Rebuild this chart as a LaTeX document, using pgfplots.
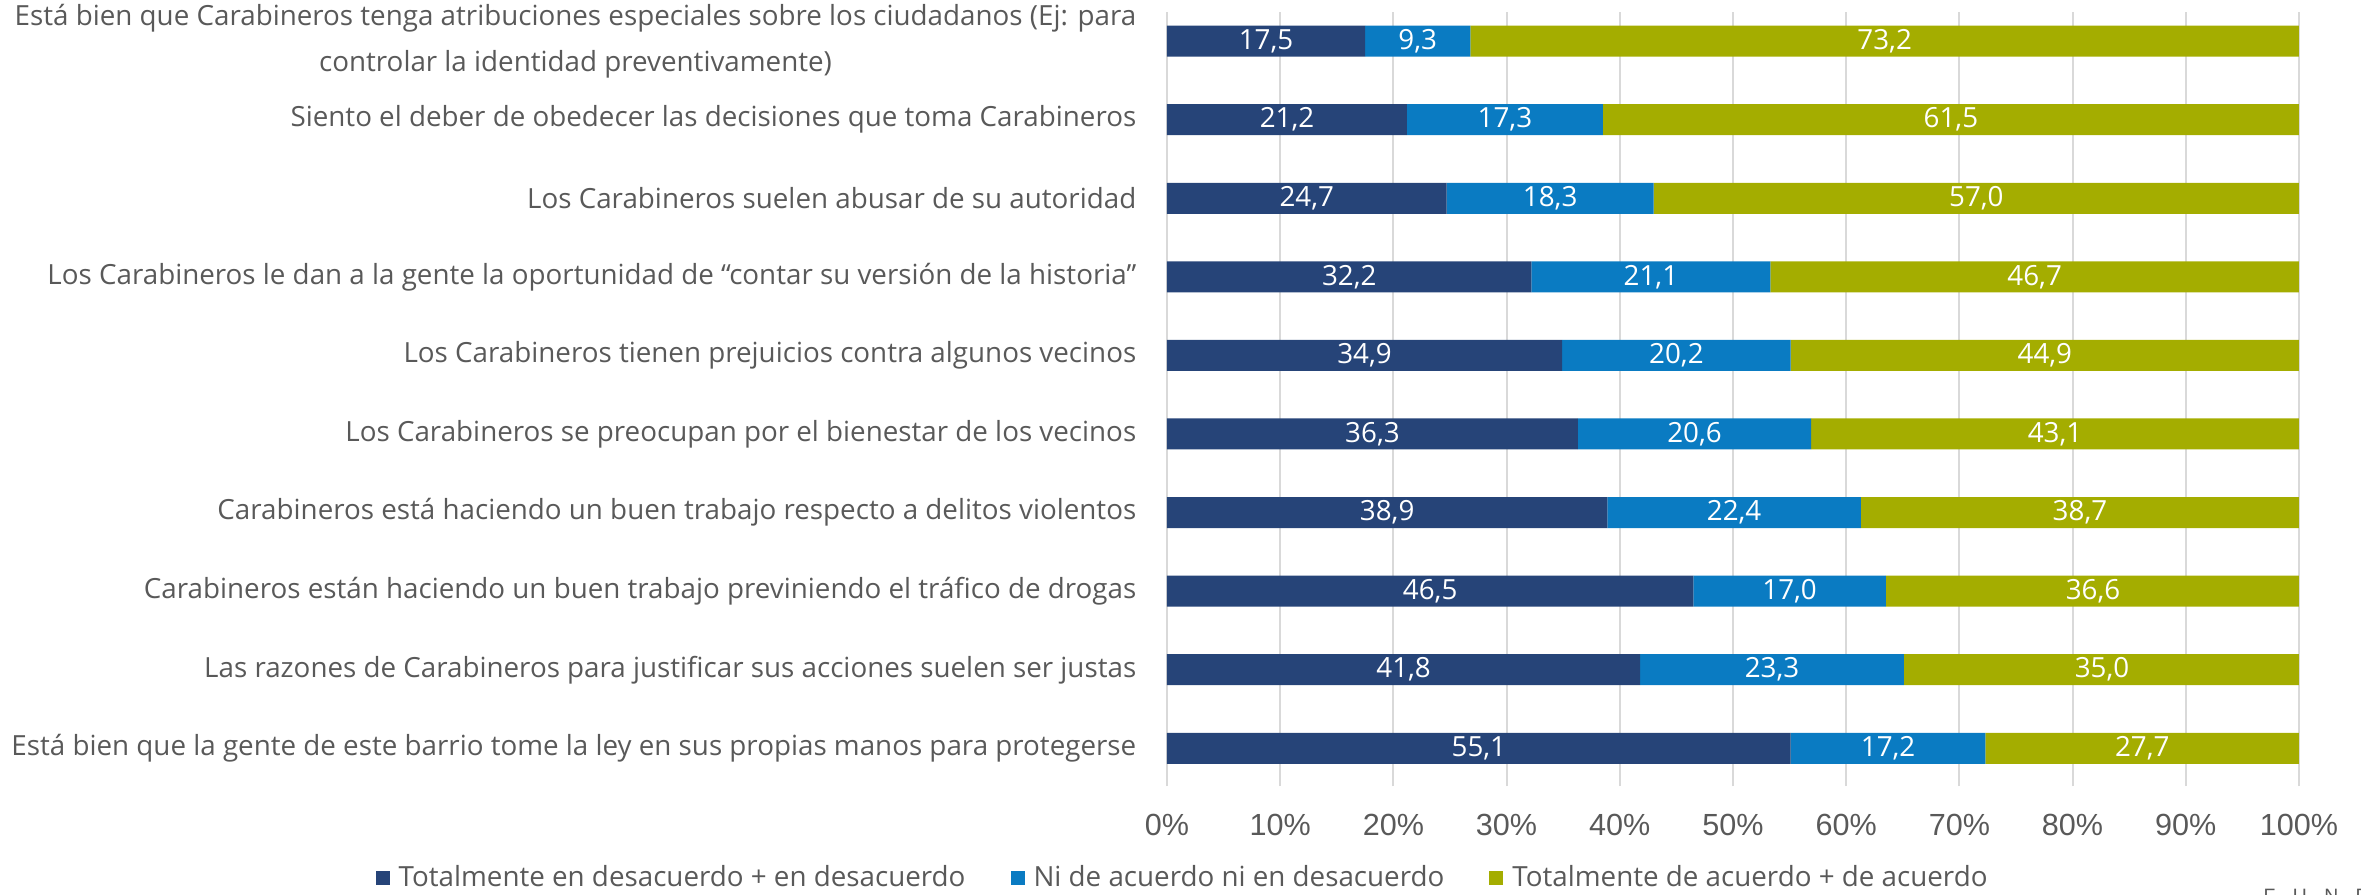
\documentclass[border=0pt]{standalone}
\usepackage{fontspec}
\setmainfont{Open Sans}
\newfontfamily\arialf{Liberation Sans}
\usepackage{pgfplots}
\usepackage{pgfplotstable}
\pgfplotsset{compat=1.18}

\definecolor{cdis}{HTML}{264478}
\definecolor{cmid}{HTML}{0A7BC2}
\definecolor{cagr}{HTML}{A4AD00}
\definecolor{txtgray}{HTML}{595959}
\definecolor{gridgray}{HTML}{D9D9D9}

\newcommand{\lblfont}{\fontsize{7.9}{13.3}\selectfont}

% pos: 9 = top row, 0 = bottom row
\pgfplotstableread{
pos dis  mid  agr
9   17.5 9.3  73.2
8   21.2 17.3 61.5
7   24.7 18.3 57.0
6   32.2 21.1 46.7
5   34.9 20.2 44.9
4   36.3 20.6 43.1
3   38.9 22.4 38.7
2   46.5 17.0 36.6
1   41.8 23.3 35.0
0   55.1 17.2 27.7
}\datatable

\pgfplotsset{
  frame/.style={
    at={(0,0)}, anchor=south west,
    scale only axis, width=11.32cm, height=7.74cm,
    xmin=0, xmax=100, ymin=-0.48, ymax=9.37,
  },
  barlabel/.style={
    draw=none, mark=none, forget plot, point meta=explicit,
    nodes near coords={\pgfmathprintnumber[fixed,fixed zerofill,precision=1,use comma,assume math mode=true]{\pgfplotspointmeta}},
    every node near coord/.append style={font=\lblfont, text=white,
      anchor=center, inner sep=0pt},
  },
}

\begin{document}
\begin{tikzpicture}
\begin{axis}[
  frame,
  xbar stacked, bar width=0.31cm,
  xtick={0,10,...,100},
  xticklabels={0\%,10\%,20\%,30\%,40\%,50\%,60\%,70\%,80\%,90\%,100\%},
  xticklabel style={font=\arialf\fontsize{8.7}{10}\selectfont, text=txtgray,
                    inner sep=0pt, anchor=north, yshift=-0.27cm},
  ytick={0,...,9},
  yticklabels={
    Está bien que la gente de este barrio tome la ley en sus propias manos para protegerse,
    Las razones de Carabineros para justificar sus acciones suelen ser justas,
    Carabineros están haciendo un buen trabajo previniendo el tráfico de drogas,
    Carabineros está haciendo un buen trabajo respecto a delitos violentos,
    Los Carabineros se preocupan por el bienestar de los vecinos,
    Los Carabineros tienen prejuicios contra algunos vecinos,
    Los Carabineros le dan a la gente la oportunidad de “contar su versión de la historia”,
    Los Carabineros suelen abusar de su autoridad,
    Siento el deber de obedecer las decisiones que toma Carabineros,
    {Está bien que Carabineros tenga atribuciones especiales sobre los ciudadanos (Ej: para\\controlar la identidad preventivamente)}
  },
  yticklabel style={font=\lblfont, text=txtgray, align=center,
                    inner sep=0pt, anchor=east, xshift=-0.3cm},
  xmajorgrids, grid style={gridgray, line width=0.6pt},
  axis line style={draw=none}, tick style={draw=none},
  major tick length=0pt,
  legend style={at={(0.016,-0.119)}, anchor=center, legend columns=3,
    draw=none, fill=none, font=\lblfont, text=txtgray,
    /tikz/every even column/.append style={column sep=0.38cm},
    /tikz/every odd column/.append style={column sep=0.02cm}},
  legend cell align=left,
  legend image code/.code={\fill[#1] (0cm,-0.07cm) rectangle (0.14cm,0.07cm);},
]
\addplot[fill=cdis, draw=none] table[x=dis, y=pos] {\datatable};
\addplot[fill=cmid, draw=none] table[x=mid, y=pos] {\datatable};
\addplot[fill=cagr, draw=none] table[x=agr, y=pos] {\datatable};
\legend{Totalmente en desacuerdo + en desacuerdo,
        Ni de acuerdo ni en desacuerdo,
        Totalmente de acuerdo + de acuerdo}
\end{axis}
% value labels, centred in each segment
\begin{axis}[frame, hide axis]
\addplot[barlabel] table[x expr=\thisrow{dis}/2, y=pos, meta=dis] {\datatable};
\addplot[barlabel] table[x expr=\thisrow{dis}+\thisrow{mid}/2, y=pos, meta=mid] {\datatable};
\addplot[barlabel] table[x expr=\thisrow{dis}+\thisrow{mid}+\thisrow{agr}/2, y=pos, meta=agr] {\datatable};
\end{axis}
\node[anchor=north west, inner sep=0pt, text=txtgray,
      font=\arialf\fontsize{5.5}{6}\selectfont] at (10.96cm,-1.02cm)
  {F\hspace{0.9em}U\hspace{0.9em}N\hspace{0.9em}D};
\pgfresetboundingbox
\useasboundingbox (-11.67cm,-1.08cm) rectangle (11.94cm,7.86cm);
\end{tikzpicture}
\end{document}
